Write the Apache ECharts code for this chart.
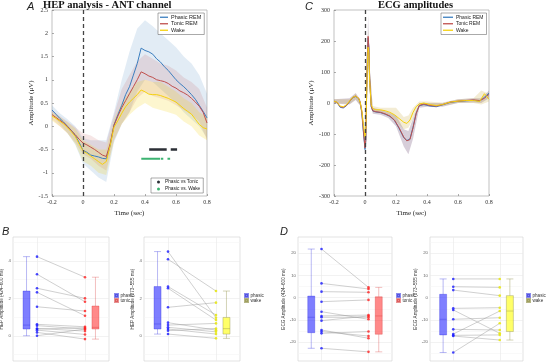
<!DOCTYPE html>
<html>
<head>
<meta charset="utf-8">
<script src="https://cdn.jsdelivr.net/npm/echarts@6/dist/echarts.min.js"></script>
<style>
  html, body { margin: 0; padding: 0; background: #fff; }
  #main { width: 546px; height: 362px; }
</style>
</head>
<body>
<div id="main"></div>
<script>
// ---- panel A : HEP curves (uV) ----
var hepTime = [-0.2,-0.175,-0.15,-0.125,-0.1,-0.075,-0.05,-0.025,0,0.025,0.05,0.075,0.1,0.125,0.15,0.175,0.2,0.225,0.25,0.275,0.3,0.325,0.35,0.375,0.4,0.425,0.45,0.475,0.5,0.525,0.55,0.575,0.6,0.625,0.65,0.675,0.7,0.725,0.75,0.775,0.8];
var phasicHep = [0.35,0.26,0.17,0.09,0.0,-0.09,-0.2,-0.35,-0.52,-0.56,-0.62,-0.64,-0.66,-0.69,-0.7,-0.42,0.03,0.25,0.45,0.68,0.85,1.1,1.35,1.68,1.63,1.6,1.55,1.45,1.38,1.28,1.2,1.1,1.0,0.92,0.85,0.77,0.68,0.58,0.45,0.32,0.18];
var tonicHep = [0.25,0.19,0.13,0.07,-0.01,-0.1,-0.18,-0.28,-0.36,-0.4,-0.45,-0.5,-0.56,-0.62,-0.65,-0.38,0.02,0.22,0.4,0.55,0.7,0.85,1.0,1.17,1.13,1.08,1.05,1.0,0.98,0.96,0.92,0.86,0.82,0.76,0.72,0.67,0.6,0.52,0.43,0.3,0.07];
var wakeHep = [0.22,0.17,0.11,0.05,-0.03,-0.12,-0.22,-0.38,-0.53,-0.58,-0.64,-0.7,-0.76,-0.82,-0.76,-0.42,-0.02,0.12,0.28,0.42,0.52,0.6,0.68,0.78,0.74,0.69,0.68,0.68,0.66,0.63,0.6,0.56,0.52,0.45,0.38,0.32,0.26,0.15,0.04,-0.03,-0.06];

// shaded error bands
var hepBandTime = [-0.2,-0.15,-0.1,-0.05,0,0.05,0.1,0.15,0.2,0.25,0.3,0.35,0.4,0.45,0.5,0.55,0.6,0.65,0.7,0.75,0.8];
var phasicHepLow = [0.25,0.05,-0.15,-0.4,-0.8,-0.95,-1.1,-1.2,-0.35,0.05,0.3,0.75,1.0,0.95,0.8,0.65,0.5,0.3,0.15,0.0,-0.25];
var phasicHepHigh = [0.45,0.28,0.15,0.0,-0.25,-0.3,-0.3,-0.3,0.3,1.0,1.6,2.1,2.28,2.15,2.0,1.85,1.7,1.5,1.35,1.1,0.7];
var tonicHepLow = [0.15,0.0,-0.15,-0.35,-0.6,-0.7,-0.85,-0.95,-0.3,0.05,0.3,0.6,0.75,0.65,0.6,0.55,0.45,0.35,0.25,0.1,-0.3];
var tonicHepHigh = [0.35,0.22,0.1,-0.02,-0.15,-0.2,-0.3,-0.35,0.25,0.8,1.1,1.4,1.55,1.45,1.35,1.3,1.2,1.05,0.95,0.8,0.4];
var wakeHepLow = [0.12,0.0,-0.15,-0.38,-0.75,-0.85,-1.0,-1.05,-0.3,0.05,0.25,0.4,0.5,0.4,0.35,0.3,0.25,0.1,0.0,-0.2,-0.3];
var wakeHepHigh = [0.3,0.2,0.08,-0.05,-0.3,-0.4,-0.5,-0.5,0.15,0.5,0.75,0.95,1.0,0.95,0.95,0.85,0.75,0.6,0.5,0.3,0.2];

// significant windows (sec)
var sigTonic = [[0.427, 0.54], [0.566, 0.607]];
var sigWake = [[0.376, 0.498], [0.503, 0.518], [0.545, 0.562]];
var sigTonicLevel = -0.5;
var sigWakeLevel = -0.7;

// ---- panel C : ECG (uV) ----
var ecgTime = [-0.2,-0.18,-0.16,-0.14,-0.12,-0.1,-0.08,-0.06,-0.04,-0.03,-0.02,-0.01,0,0.005,0.01,0.015,0.02,0.025,0.03,0.04,0.05,0.07,0.1,0.13,0.16,0.19,0.22,0.25,0.27,0.28,0.29,0.31,0.33,0.35,0.38,0.42,0.46,0.5,0.55,0.6,0.65,0.7,0.74,0.77,0.8];
var phasicEcg = [6,1,-14,-16,-9,4,17,21,14,-2,-32,-95,-150,-125,15,145,210,178,78,-12,-26,-29,-31,-36,-43,-56,-82,-112,-121,-123,-116,-78,-33,-9,-5,-10,-12,-6,2,5,7,9,6,18,32];
var tonicEcg = [5,2,-12,-14,-8,5,18,22,15,0,-30,-90,-145,-120,20,150,215,180,80,-10,-25,-28,-30,-35,-42,-55,-80,-110,-122,-125,-118,-80,-35,-8,-3,-8,-10,-5,3,6,8,10,8,15,28];
var wakeEcg = [6,2,-10,-12,-6,6,18,22,14,0,-25,-70,-110,-90,10,120,180,160,70,-5,-18,-22,-22,-25,-30,-38,-50,-62,-66,-63,-55,-30,-12,-3,0,-5,-8,-5,3,6,8,8,5,30,12];
var ecgBandTime = [-0.2,-0.1,-0.06,-0.03,-0.01,0,0.01,0.02,0.03,0.05,0.1,0.15,0.2,0.25,0.28,0.31,0.35,0.4,0.5,0.6,0.7,0.75,0.8];
var tonicEcgLow = [-2,-5,10,-10,-110,-165,0,150,50,-35,-38,-48,-75,-140,-165,-115,-15,-12,-12,0,2,0,15];
var tonicEcgHigh = [12,15,32,10,-70,-120,60,285,120,-15,-22,-30,-40,-85,-90,-50,0,0,0,12,15,15,40];
var wakeEcgLow = [0,-3,12,-8,-90,-140,-20,120,30,-30,-30,-40,-60,-85,-80,-50,-10,-8,-10,0,0,-5,5];
var wakeEcgHigh = [12,12,30,8,-50,-80,40,240,110,-10,-15,-15,-15,-45,-40,-15,5,5,2,12,15,40,30];

// ---- panel B : HEP amplitude per subject ----
var hepPhasicB1 = [4.23,3.29,2.54,2.32,1.55,0.61,0.54,0.39,0.36,0.30,0.18,0.0];
var hepTonicB1 = [3.13,1.82,2.0,1.07,1.32,0.48,0.36,0.25,0.43,0.07,-0.18,0.36];
var hepPhasicB2 = [4.5,4.09,2.63,2.54,1.52,0.7,0.57,0.45,0.36,0.27,0.09];
var hepWakeB2 = [0.96,2.39,1.11,0.84,1.77,0.3,0.66,0.21,0.09,0.39,-0.14];
// box stats [min, Q1, median, Q3, max]
var boxPhasicB1 = [0.0, 0.36, 0.57, 2.39, 4.23];
var boxTonicB1 = [-0.18, 0.36, 0.45, 1.59, 3.13];
var boxPhasicB2 = [0.09, 0.36, 0.63, 2.63, 4.5];
var boxWakeB2 = [-0.14, 0.09, 0.38, 0.98, 2.39];
var hepTicks = [0, 2, 4];
var hepMinorTicks = [-1, 0, 1, 2, 3, 4, 5];

// ---- panel D : ECG amplitude per subject ----
var ecgPhasicD1 = [21.8,6.4,2.7,-1.8,-6.3,-8.2,-8.8,-10.3,-15.2,-16,-22.7,-14.5];
var ecgTonicD1 = [4.6,3.9,2.4,-1.0,-9.7,-7.8,-8.8,-8.2,-17.2,-15.2,-24.3,-18.2];
var ecgPhasicD2 = [8.4,4.9,3.4,-4.8,-5.5,-9.7,-14.2,-16.3,-16.9,-17.2,-24.6];
var ecgWakeD2 = [8.4,4.6,0.9,-4.5,-16,-9,-14.5,-6.0,-16.7,-19,-11.5];
var boxPhasicD1 = [-22.7, -15.7, -8.8, 0.7, 21.8];
var boxTonicD1 = [-24.3, -16.4, -8.2, 0.4, 4.6];
var boxPhasicD2 = [-24.6, -16.7, -9.7, 1.5, 8.4];
var boxWakeD2 = [-19, -15.2, -6.0, 0.9, 8.4];
var ecgTicks = [-20, -10, 0, 10, 20];
var ecgMinorTicks = [-25, -20, -15, -10, -5, 0, 5, 10, 15, 20, 25];

var SERIF = "'Liberation Serif','Times New Roman',serif";
var SANS = "'Liberation Sans',Arial,sans-serif";
var C_PHASIC = '#3b7ebf', C_TONIC = '#c0504d', C_WAKE = '#f5d10f';

function pts(xs, ys) {
  return xs.map(function (x, i) { return [x, ys[i]]; });
}

// error band as one polygon, placed through the axis scales
function bandSeries(ax, xs, low, high, color) {
  return {
    type: 'custom', xAxisIndex: ax, yAxisIndex: ax, silent: true, z: 1,
    data: xs.map(function (x, i) { return [x, low[i], high[i]]; }),
    encode: { x: 0, y: [1, 2] },
    renderItem: function (params, api) {
      if (params.dataIndex !== 0) return;
      var poly = [];
      xs.forEach(function (x, i) { poly.push(api.coord([x, high[i]])); });
      for (var i = xs.length - 1; i >= 0; i--) poly.push(api.coord([xs[i], low[i]]));
      return { type: 'polygon', shape: { points: poly }, style: { fill: color } };
    }
  };
}

function curve(ax, name, xs, ys, color, z) {
  return {
    type: 'line', name: name, xAxisIndex: ax, yAxisIndex: ax, data: pts(xs, ys),
    symbol: 'none', lineStyle: { color: color, width: 1 }, itemStyle: { color: color }, z: z || 3
  };
}

function sigSeries(name, segs, level, color, width) {
  var d = [];
  segs.forEach(function (s) { d.push([s[0], level], [s[1], level], [s[1], '-']); });
  return {
    type: 'line', name: name, xAxisIndex: 0, yAxisIndex: 0, data: d, symbol: 'none',
    lineStyle: { color: color, width: width, cap: 'butt' }, itemStyle: { color: color }, z: 4
  };
}

function zeroLine(ax) {
  return {
    type: 'line', xAxisIndex: ax, yAxisIndex: ax, data: [], z: 5,
    markLine: {
      silent: true, symbol: 'none', label: { show: false },
      lineStyle: { color: '#444', width: 1.3, type: [4, 3] },
      data: [{ xAxis: 0 }]
    }
  };
}

// bottom panels
function boxPanel(ax, cats, a, b, boxA, boxB, styleA, styleB) {
  var out = [];
  out.push({
    type: 'line', xAxisIndex: ax, yAxisIndex: ax, data: [], z: 1,
    markLine: {
      silent: true, symbol: 'none', label: { show: false }, z: 1,
      lineStyle: { color: '#ebebeb', width: 0.7, type: 'solid' },
      data: [{ xAxis: cats[0] }, { xAxis: cats[1] }]
    }
  });
  out.push({
    type: 'boxplot', name: cats[0], xAxisIndex: ax, yAxisIndex: ax, boxWidth: [7, 7],
    encode: { x: 0, y: [1, 2, 3, 4, 5] }, data: [[0].concat(boxA)],
    itemStyle: styleA, z: 2, silent: true
  });
  out.push({
    type: 'boxplot', name: cats[1], xAxisIndex: ax, yAxisIndex: ax, boxWidth: [7, 7],
    encode: { x: 0, y: [1, 2, 3, 4, 5] }, data: [[1].concat(boxB)],
    itemStyle: styleB, z: 2, silent: true
  });
  a.forEach(function (v, i) {
    out.push({
      type: 'line', xAxisIndex: ax, yAxisIndex: ax, data: [[cats[0], v], [cats[1], b[i]]],
      symbol: 'none', lineStyle: { color: 'rgba(150,150,150,0.75)', width: 0.6 }, z: 3, silent: true
    });
  });
  out.push({
    type: 'scatter', xAxisIndex: ax, yAxisIndex: ax, symbolSize: 2.6, z: 4, silent: true,
    data: a.map(function (v) { return [cats[0], v]; }), itemStyle: { color: '#1a1aff' }
  });
  out.push({
    type: 'scatter', xAxisIndex: ax, yAxisIndex: ax, symbolSize: 2.6, z: 4, silent: true,
    data: b.map(function (v) { return [cats[1], v]; }),
    itemStyle: { color: cats[1] === 'tonic' ? '#ff2020' : '#e6e600' }
  });
  return out;
}

var stPhasic = { color: 'rgba(40,40,255,0.6)', borderColor: 'rgba(40,40,220,0.55)', borderWidth: 0.6 };
var stTonic = { color: 'rgba(255,40,40,0.55)', borderColor: 'rgba(210,40,40,0.5)', borderWidth: 0.6 };
var stWake = { color: 'rgba(255,255,40,0.7)', borderColor: 'rgba(150,150,80,0.7)', borderWidth: 0.6 };

var topGrids = [
  { left: 52, top: 10, width: 155, height: 186 },
  { left: 334, top: 10, width: 155, height: 186 }
];
var botGrids = [
  { left: 13, top: 237, width: 96, height: 124 },
  { left: 144, top: 237, width: 96, height: 124 },
  { left: 298, top: 237, width: 94, height: 124 },
  { left: 430, top: 237, width: 93, height: 124 }
];
var grids = topGrids.map(function (g) {
  return Object.assign({ show: true, borderColor: '#a8a8a8', borderWidth: 0.7, outerBoundsMode: 'none' }, g);
}).concat(botGrids.map(function (g) {
  return Object.assign({ show: true, borderColor: '#d0d0d0', borderWidth: 0.6, outerBoundsMode: 'none' }, g);
}));

var tickLbl = { fontFamily: SERIF, fontSize: 6, color: '#333' };
function topX(gi) {
  return {
    type: 'value', gridIndex: gi, min: -0.2, max: 0.8, interval: 0.2,
    name: 'Time (sec)', nameLocation: 'middle', nameGap: 11,
    nameTextStyle: { fontFamily: SERIF, fontSize: 7, color: '#222' },
    axisLine: { show: false, onZero: false }, splitLine: { show: false },
    axisTick: { inside: true, length: 2, lineStyle: { color: '#777', width: 0.6 } },
    axisLabel: Object.assign({ margin: 3, formatter: function (v) { return String(+v.toFixed(1)); } }, tickLbl)
  };
}
function topY(gi, min, max, step, gap) {
  return {
    type: 'value', gridIndex: gi, min: min, max: max, interval: step,
    name: 'Amplitude (\u03bcV)', nameLocation: 'middle', nameGap: gap,
    nameTextStyle: { fontFamily: SERIF, fontSize: 7, color: '#222' },
    axisLine: { show: false, onZero: false }, splitLine: { show: false },
    axisTick: { inside: true, length: 2, lineStyle: { color: '#777', width: 0.6 } },
    axisLabel: Object.assign({ margin: 4, formatter: function (v) { return String(+v.toFixed(1)); } }, tickLbl)
  };
}
function botX(gi, cats) {
  return {
    type: 'category', gridIndex: gi, data: cats, boundaryGap: true,
    axisLine: { show: false, onZero: false }, axisTick: { show: false }, axisLabel: { show: false }, splitLine: { show: false }
  };
}
function botY(gi, min, max, majors, minors, name) {
  return {
    type: 'value', gridIndex: gi, min: min, max: max,
    name: name, nameLocation: 'middle', nameGap: gi >= 4 ? 12 : 6,
    nameTextStyle: { fontFamily: SANS, fontSize: 4.6, color: '#333' },
    axisLine: { show: false },
    axisTick: { show: false, customValues: minors },
    axisLabel: { customValues: majors, fontFamily: SANS, fontSize: 4.3, color: '#666', margin: 2 },
    splitLine: { show: true, lineStyle: { color: ['#f5f5f5', '#e9e9e9'], width: 0.6 } }
  };
}

var series = [
  bandSeries(0, hepBandTime, phasicHepLow, phasicHepHigh, 'rgba(59,126,191,0.15)'),
  bandSeries(0, hepBandTime, tonicHepLow, tonicHepHigh, 'rgba(192,80,77,0.14)'),
  bandSeries(0, hepBandTime, wakeHepLow, wakeHepHigh, 'rgba(245,209,15,0.2)'),
  curve(0, 'Phasic REM', hepTime, phasicHep, C_PHASIC),
  curve(0, 'Tonic REM', hepTime, tonicHep, C_TONIC),
  curve(0, 'Wake', hepTime, wakeHep, C_WAKE),
  sigSeries('Phasic vs Tonic', sigTonic, sigTonicLevel, '#2b2f36', 2.6),
  sigSeries('Phasic vs. Wake', sigWake, sigWakeLevel, '#3cb371', 2),
  zeroLine(0),
  bandSeries(1, ecgBandTime, tonicEcgLow, tonicEcgHigh, 'rgba(110,80,120,0.28)'),
  bandSeries(1, ecgBandTime, wakeEcgLow, wakeEcgHigh, 'rgba(200,170,60,0.22)'),
  curve(1, 'Phasic REM', ecgTime, phasicEcg, C_PHASIC),
  curve(1, 'Tonic REM', ecgTime, tonicEcg, C_TONIC),
  curve(1, 'Wake', ecgTime, wakeEcg, C_WAKE),
  zeroLine(1)
]
  .concat(boxPanel(2, ['phasic', 'tonic'], hepPhasicB1, hepTonicB1, boxPhasicB1, boxTonicB1, stPhasic, stTonic))
  .concat(boxPanel(3, ['phasic', 'wake'], hepPhasicB2, hepWakeB2, boxPhasicB2, boxWakeB2, stPhasic, stWake))
  .concat(boxPanel(4, ['phasic', 'tonic'], ecgPhasicD1, ecgTonicD1, boxPhasicD1, boxTonicD1, stPhasic, stTonic))
  .concat(boxPanel(5, ['phasic', 'wake'], ecgPhasicD2, ecgWakeD2, boxPhasicD2, boxWakeD2, stPhasic, stWake));

function lineLegend(left, top, fs, iw) {
  return {
    left: left, top: top, orient: 'vertical', itemGap: 0, itemWidth: iw, itemHeight: 1.3,
    icon: 'rect', padding: [1, 3, 1, 2], borderColor: '#555', borderWidth: 0.5, backgroundColor: '#fff',
    textStyle: { fontFamily: SANS, fontSize: fs, color: '#222', lineHeight: 6.5, padding: [0, 0, 0, -2] },
    data: ['Phasic REM', 'Tonic REM', 'Wake'], selectedMode: false
  };
}
function boxLegend(left, names) {
  return {
    left: left, top: 293, orient: 'vertical', itemGap: 0, itemWidth: 3, itemHeight: 3,
    padding: 0, icon: 'rect', selectedMode: false,
    textStyle: { fontFamily: SANS, fontSize: 4.6, color: '#333', lineHeight: 5, padding: [0, 0, 0, -2.5] },
    data: names
  };
}
var letterStyle = { fontFamily: SANS, fontStyle: 'italic', fontWeight: 'normal', fontSize: 11, color: '#222' };

var option = {
  animation: false,
  backgroundColor: '#fff',
  title: [
    { text: 'HEP analysis - ANT channel', left: 43, top: 0, padding: 0,
      textStyle: { fontFamily: SERIF, fontWeight: 'bold', fontSize: 10.5, color: '#111' } },
    { text: 'ECG amplitudes', left: 378, top: 0, padding: 0,
      textStyle: { fontFamily: SERIF, fontWeight: 'bold', fontSize: 10.5, color: '#111' } },
    { text: 'A', left: 27, top: 1, padding: 0, textStyle: letterStyle },
    { text: 'C', left: 305, top: 1, padding: 0, textStyle: letterStyle },
    { text: 'B', left: 2, top: 226, padding: 0, textStyle: letterStyle },
    { text: 'D', left: 280, top: 226, padding: 0, textStyle: letterStyle }
  ],
  legend: [
    lineLegend(158, 13, 5.5, 8),
    lineLegend(441, 13, 5, 10),
    {
      left: 151, top: 178, orient: 'vertical', itemGap: 1, itemWidth: 3, itemHeight: 3,
      padding: [1, 3, 1, 6], borderColor: '#555', borderWidth: 0.5, backgroundColor: '#fff',
      selectedMode: false,
      textStyle: { fontFamily: SANS, fontSize: 4.8, color: '#222', lineHeight: 6 },
      data: [{ name: 'Phasic vs Tonic', icon: 'circle' }, { name: 'Phasic vs. Wake', icon: 'circle' }]
    },
    boxLegend(114, ['phasic', 'tonic']),
    boxLegend(244, ['phasic', 'wake']),
    boxLegend(396, ['phasic', 'tonic']),
    boxLegend(526, ['phasic', 'wake'])
  ],
  grid: grids,
  xAxis: [
    topX(0), topX(1),
    botX(2, ['phasic', 'tonic']), botX(3, ['phasic', 'wake']),
    botX(4, ['phasic', 'tonic']), botX(5, ['phasic', 'wake'])
  ],
  yAxis: [
    topY(0, -1.5, 2.5, 0.5, 15),
    topY(1, -300, 300, 100, 18),
    botY(2, -1.35, 5.28, hepTicks, hepMinorTicks, 'HEP Amplitude (424\u2013600 ms)'),
    botY(3, -1.35, 5.28, hepTicks, hepMinorTicks, 'HEP Amplitude (373\u2013555 ms)'),
    botY(4, -28.4, 27.2, ecgTicks, ecgMinorTicks, 'ECG Amplitude (424\u2013600 ms)'),
    botY(5, -28.4, 27.2, ecgTicks, ecgMinorTicks, 'ECG Amplitude (373\u2013555 ms)')
  ],
  series: series
};

var chart = echarts.init(document.getElementById('main'), null, { renderer: 'canvas' });
chart.setOption(option);
</script>
</body>
</html>
